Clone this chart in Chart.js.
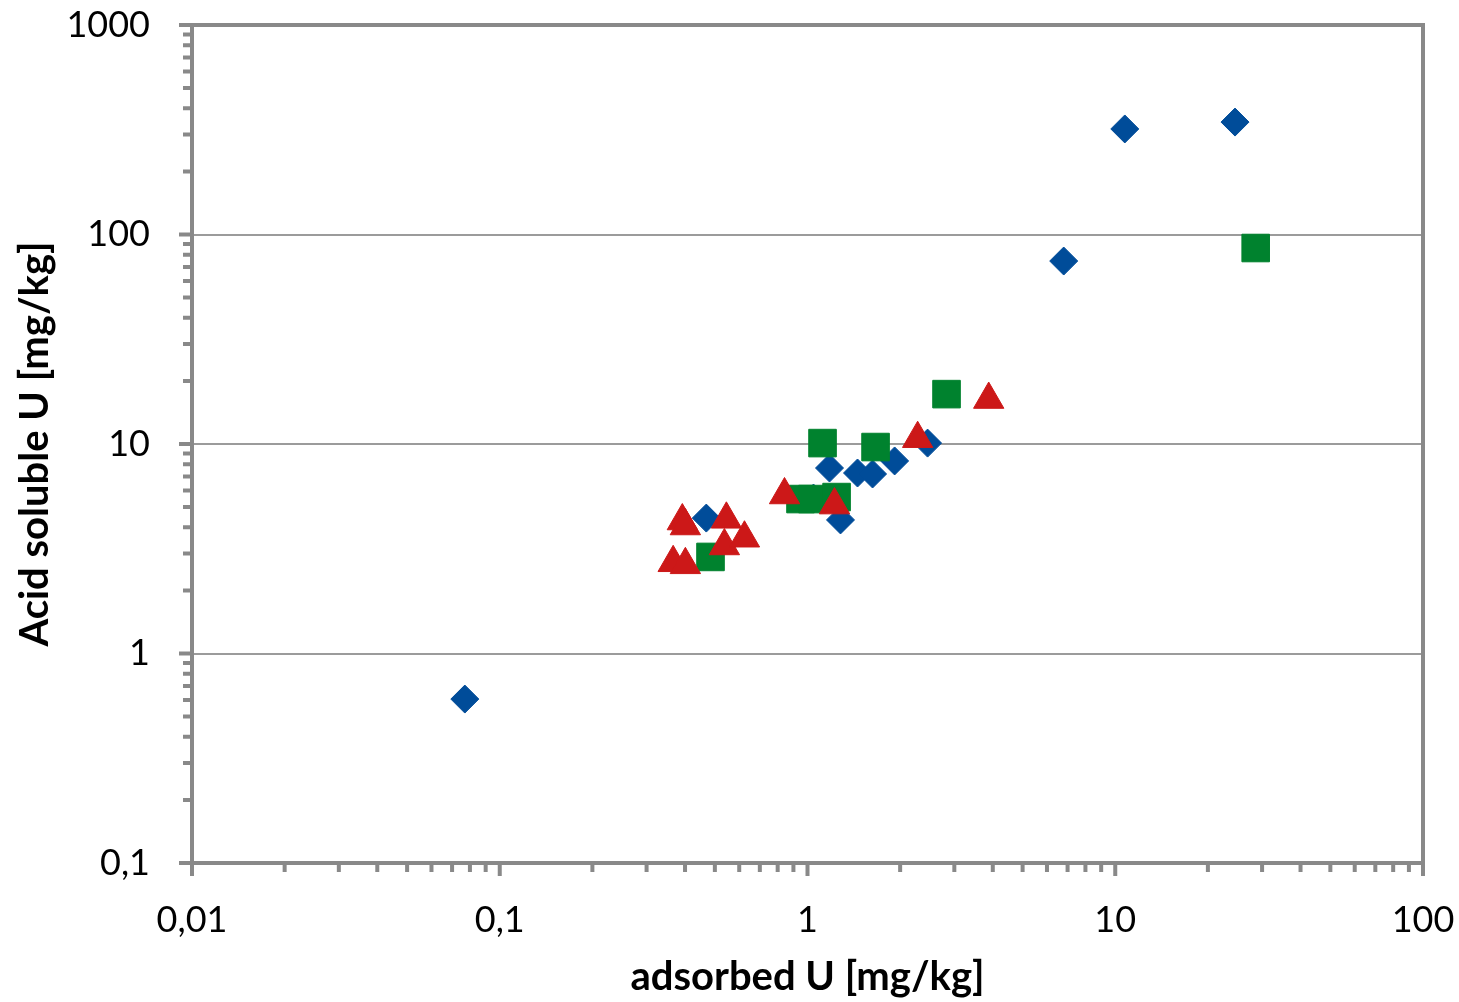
<!DOCTYPE html>
<html>
<head>
<meta charset="utf-8">
<script src="https://cdn.jsdelivr.net/npm/chart.js@4"></script>
<style>
  html, body { margin: 0; padding: 0; background: #fff; }
  #wrap { width: 1459px; height: 1002px; }
</style>
</head>
<body>
<div id="wrap"><canvas id="uChart"></canvas></div>
<script>
// series (log-log)
const blueX = [0.077, 0.469, 1.046, 1.179, 1.28, 1.454, 1.627, 1.919, 2.456, 6.80, 10.74, 24.5];
const blueY = [0.606, 4.43, 5.52, 7.68, 4.34, 7.27, 7.19, 8.30, 10.1, 74.7, 319, 344];

const greenX = [0.484, 0.949, 1.038, 1.243, 1.119, 1.664, 2.83, 28.6];
const greenY = [2.89, 5.46, 5.46, 5.58, 10.1, 9.67, 17.3, 86.2];

const redX = [3.88, 2.28, 0.842, 1.224, 0.392, 0.401, 0.545, 0.537, 0.624, 0.366, 0.401];
const redY = [16.3, 10.6, 5.71, 5.11, 4.29, 4.06, 4.37, 3.26, 3.55, 2.71, 2.65];

const xTickLabels = ['0,01', '0,1', '1', '10', '100'];
const yTickLabels = ['0,1', '1', '10', '100', '1000'];

const FONT = 'Lato, "Open Sans", sans-serif';
const AXIS_COLOR = '#898989';

function toPoints(xs, ys) {
    return xs.map((x, i) => ({ x: x, y: ys[i] }));
}

// 1..9 x 10^n between min and max
function logTicks(min, max) {
    const out = [];
    for (let e = Math.round(Math.log10(min)); e < Math.round(Math.log10(max)); e++) {
        for (let s = 1; s <= 9; s++) {
            out.push(Number((s * Math.pow(10, e)).toPrecision(3)));
        }
    }
    out.push(max);
    return out;
}

function isDecade(v) {
    const l = Math.log10(v);
    return Math.abs(l - Math.round(l)) < 1e-6;
}

function decadeLabel(labels, min) {
    return function (value) {
        if (!isDecade(value)) return '';
        const idx = Math.round(Math.log10(value) - Math.log10(min));
        return labels[idx];
    };
}

// no extra room for overhanging labels, the layout padding handles it
function noOverhang(scale) {
    scale.paddingTop = 0;
    scale.paddingBottom = 0;
    scale.paddingLeft = 0;
    scale.paddingRight = 0;
}

// frame + tick marks like Excel
const frame = {
    id: 'frame',
    afterDatasetsDraw(chart) {
        const { ctx, chartArea: a, scales } = chart;
        ctx.save();
        ctx.strokeStyle = AXIS_COLOR;
        ctx.lineWidth = 4;
        ctx.beginPath();
        scales.x.ticks.forEach(t => {
            const px = scales.x.getPixelForValue(t.value);
            ctx.moveTo(px, a.bottom);
            ctx.lineTo(px, a.bottom + (isDecade(t.value) ? 13 : 9));
        });
        scales.y.ticks.forEach(t => {
            const py = scales.y.getPixelForValue(t.value);
            ctx.moveTo(a.left, py);
            ctx.lineTo(a.left - (isDecade(t.value) ? 13 : 9), py);
        });
        ctx.stroke();
        ctx.strokeRect(a.left, a.top, a.right - a.left, a.bottom - a.top);
        ctx.restore();
    }
};

const ctx = document.getElementById('uChart').getContext('2d');
const chart = new Chart(ctx, {
    type: 'scatter',
    data: {
        datasets: [{
            label: 'blue',
            data: toPoints(blueX, blueY),
            pointStyle: 'rectRot',
            pointRadius: 14,
            pointHoverRadius: 14,
            backgroundColor: '#004C99',
            borderColor: '#004C99',
            borderWidth: 1,
            order: 3
        }, {
            label: 'green',
            data: toPoints(greenX, greenY),
            pointStyle: 'rect',
            pointRadius: 19.5,
            pointHoverRadius: 19.5,
            backgroundColor: '#00822E',
            borderColor: '#00822E',
            borderWidth: 1,
            order: 2
        }, {
            label: 'red',
            data: toPoints(redX, redY),
            pointStyle: 'triangle',
            pointRadius: 17.5,
            pointHoverRadius: 17.5,
            backgroundColor: '#CC1818',
            borderColor: '#CC1818',
            borderWidth: 1,
            order: 1
        }]
    },
    options: {
        responsive: true,
        maintainAspectRatio: false,
        animation: false,
        layout: { padding: { left: 0, top: 25, right: 36, bottom: 0 } },
        plugins: {
            legend: { display: false },
            tooltip: { enabled: false }
        },
        scales: {
            x: {
                type: 'logarithmic',
                min: 0.01,
                max: 100,
                afterBuildTicks(scale) {
                    scale.ticks = logTicks(0.01, 100).map(v => ({ value: v }));
                },
                afterFit(scale) { scale.height = 139; noOverhang(scale); },
                grid: { display: false, drawTicks: false },
                border: { display: false },
                ticks: {
                    autoSkip: false,
                    maxRotation: 0,
                    padding: 36,
                    color: '#000',
                    font: { family: FONT, size: 36 },
                    callback: decadeLabel(xTickLabels, 0.01)
                },
                title: {
                    display: true,
                    text: 'adsorbed U [mg/kg]',
                    color: '#000',
                    font: { family: FONT, size: 40, weight: 'bold' },
                    padding: { top: 0, bottom: 1 }
                }
            },
            y: {
                type: 'logarithmic',
                min: 0.1,
                max: 1000,
                afterBuildTicks(scale) {
                    scale.ticks = logTicks(0.1, 1000).map(v => ({ value: v }));
                },
                afterFit(scale) { scale.width = 192; noOverhang(scale); },
                grid: {
                    drawTicks: false,
                    lineWidth: 2,
                    color: c => (c.tick && isDecade(c.tick.value)) ? '#9B9B9B' : 'rgba(0,0,0,0)'
                },
                border: { display: false },
                ticks: {
                    autoSkip: false,
                    padding: 42,
                    color: '#000',
                    font: { family: FONT, size: 36 },
                    callback: decadeLabel(yTickLabels, 0.1)
                },
                title: {
                    display: true,
                    text: 'Acid soluble U [mg/kg]',
                    color: '#000',
                    font: { family: FONT, size: 40, weight: 'bold' },
                    padding: { top: 11, bottom: 0 }
                }
            }
        }
    },
    plugins: [frame]
});
</script>
</body>
</html>
